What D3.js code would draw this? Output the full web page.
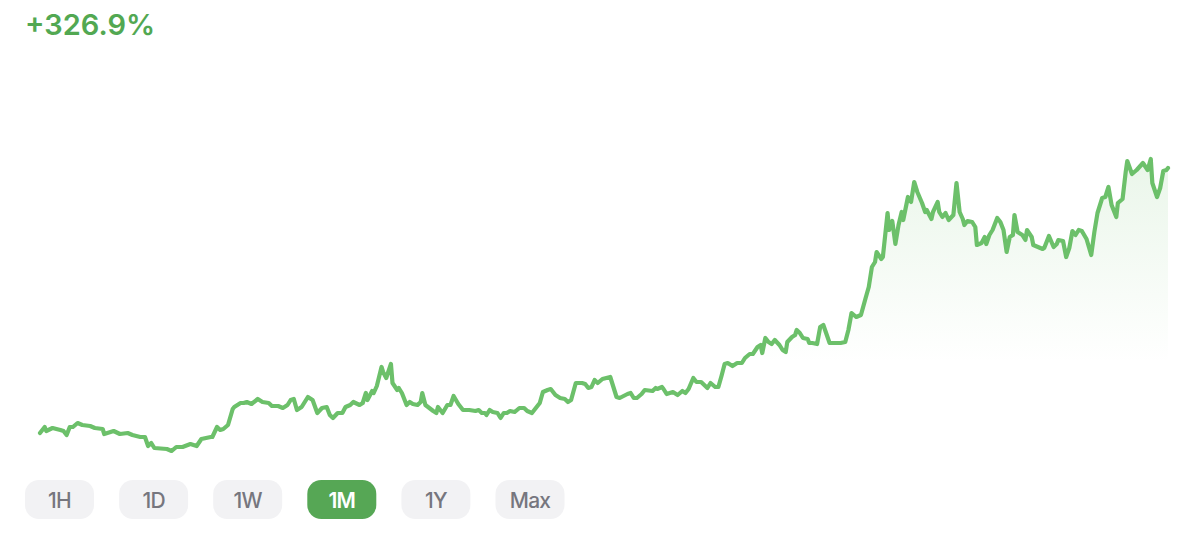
<!DOCTYPE html>
<html>
<head>
<meta charset="utf-8">
<script src="https://cdn.jsdelivr.net/npm/d3@7"></script>
<style>
  html, body { margin: 0; padding: 0; background: #ffffff; }
  svg { display: block; }
</style>
</head>
<body>
<svg id="chart" width="1200" height="534"></svg>
<script>
// ---- data ----
const changeLabel = "+326.9%";
const rangeLabels = ["1H", "1D", "1W", "1M", "1Y", "Max"];
const activeRange = "1M";
// hours since start of the month window
const hours = [
  0,3,4,8,13,15,17,19,21,24,
  27,32,35,40,41,47,51,56,59,64,
  67,69,71,73,81,84,87,91,96,100,
  103,109,110,113,115,117,120,123,124,128,
  130,132,135,139,142,146,148,152,155,158,
  160,162,164,167,171,174,177,180,183,185,
  187,190,193,195,198,200,204,206,208,209,
  212,213,215,218,219,221,224,225,228,229,
  231,234,236,238,241,243,244,246,251,253,
  254,257,260,262,264,267,270,274,278,280,
  282,284,285,287,289,292,294,296,298,300,
  303,306,309,311,314,316,319,321,324,326,
  329,332,335,337,339,342,346,348,350,352,
  354,356,359,364,366,368,370,375,377,379,
  381,384,386,391,393,394,397,398,400,404,
  407,410,412,414,417,419,422,424,426,428,
  431,433,435,437,439,442,445,448,450,453,
  455,458,460,461,463,465,467,469,472,474,
  476,477,480,482,483,485,487,490,491,493,
  496,498,500,504,508,511,514,516,518,521,
  524,527,529,531,533,534,537,538,541,542,
  544,546,548,550,551,554,556,558,560,563,
  565,566,569,570,573,574,576,578,580,583,
  585,587,589,590,592,595,597,598,601,603,
  604,606,608,611,613,615,617,619,621,622,
  624,627,629,630,633,634,637,640,641,644,
  647,649,650,653,655,657,659,661,663,665,
  668,671,673,675,678,680,682,684,687,688,
  691,693,694,697,700,704,707,709,710,713,
  715,717,719,720
];
const price = [
  80,86,82,85,83,82,78,86,86,90,
  88,87,85,84,79,82,79,80,78,76,
  76,67,70,65,64,62,66,66,69,67,
  74,76,76,86,83,84,88,104,106,110,
  110,111,109,114,111,110,107,107,105,108,
  113,114,103,106,116,113,100,105,106,98,
  95,100,100,106,108,111,108,110,120,113,
  122,120,127,146,141,135,149,130,123,125,
  120,108,111,109,108,111,120,108,102,100,
  106,100,108,108,117,109,103,103,102,103,
  100,100,98,103,101,100,95,100,100,102,
  101,105,105,102,100,104,110,121,123,124,
  118,115,114,111,113,130,130,129,125,126,
  133,130,134,136,126,116,115,119,120,115,
  115,119,123,122,125,124,126,124,119,121,
  118,122,120,124,135,131,131,128,125,130,
  126,126,137,149,150,147,150,150,155,159,
  159,166,168,160,175,171,169,173,168,163,
  161,171,176,178,183,180,175,174,170,170,
  169,186,188,170,170,170,171,183,200,196,
  198,215,226,246,251,261,254,256,300,283,
  292,269,288,301,293,316,311,331,321,310,
  301,303,294,301,311,301,296,300,293,298,
  330,301,294,288,292,291,286,268,270,276,
  269,278,283,295,291,283,261,276,278,298,
  281,278,273,283,276,268,266,264,265,277,
  266,269,273,272,256,265,282,278,283,282,
  274,258,281,300,315,316,326,308,296,310,
  314,341,352,339,343,350,343,354,330,316,
  325,342,343,345
];

// ---- layout ----
const W = 1200, H = 534;
const plot = { left: 40, right: 1168, top: 0, bottom: 513 };
const svg = d3.select("#chart");
const data = hours.map((h, i) => ({ h, v: price[i] }));

const x = d3.scaleLinear().domain([0, 720]).range([plot.left, plot.right]);
const y = d3.scaleLinear().domain([0, 400]).range([513, 113]);

// gradient for area
const defs = svg.append("defs");
const grad = defs.append("linearGradient")
  .attr("id", "areaGrad")
  .attr("gradientUnits", "userSpaceOnUse")
  .attr("x1", 0).attr("x2", 0)
  .attr("y1", y(350)).attr("y2", y(150));
grad.append("stop").attr("offset", "0%").attr("stop-color", "#6cc06a").attr("stop-opacity", 0.14);
grad.append("stop").attr("offset", "100%").attr("stop-color", "#6cc06a").attr("stop-opacity", 0);

const area = d3.area()
  .x(d => x(d.h))
  .y0(y(0))
  .y1(d => y(d.v));
svg.append("path")
  .datum(data)
  .attr("d", area)
  .attr("fill", "url(#areaGrad)");

const line = d3.line()
  .x(d => x(d.h))
  .y(d => y(d.v));
svg.append("path")
  .datum(data)
  .attr("d", line)
  .attr("fill", "none")
  .attr("stroke", "#6cc06a")
  .attr("stroke-width", 4.2)
  .attr("stroke-linejoin", "round")
  .attr("stroke-linecap", "round");

// title
svg.append("text")
  .attr("x", 25)
  .attr("y", 35)
  .attr("font-family", "Inter, 'Open Sans', sans-serif")
  .attr("font-weight", 600)
  .attr("font-size", 29)
  .attr("fill", "#52a852")
  .text(changeLabel);

// range buttons
const bx = d3.scaleBand().domain(rangeLabels).range([25, 25 + 94.1 * 6]).paddingInner(0).paddingOuter(0);
const btn = svg.append("g").selectAll("g")
  .data(rangeLabels)
  .join("g")
  .attr("transform", d => `translate(${bx(d)},480)`);
btn.append("rect")
  .attr("width", 69)
  .attr("height", 39)
  .attr("rx", 14)
  .attr("fill", d => d === activeRange ? "#56a755" : "#f2f2f4");
btn.append("text")
  .attr("x", 34.5)
  .attr("y", 27.5)
  .attr("text-anchor", "middle")
  .attr("font-family", "Inter, 'Open Sans', sans-serif")
  .attr("font-weight", d => d === activeRange ? 600 : 500)
  .attr("font-size", 21)
  .attr("letter-spacing", -0.8)
  .attr("fill", d => d === activeRange ? "#ffffff" : "#76767e")
  .text(d => d);
</script>
</body>
</html>
